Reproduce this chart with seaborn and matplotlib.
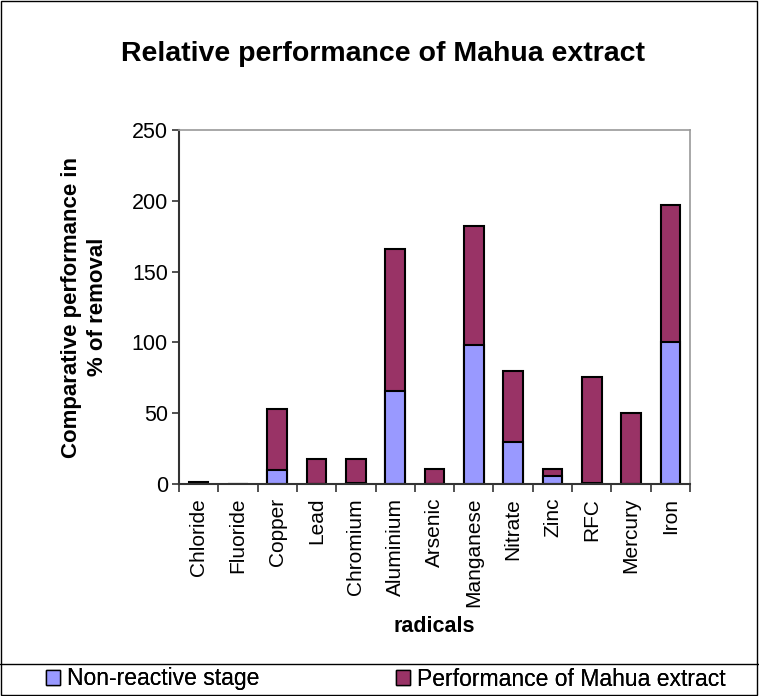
import matplotlib
matplotlib.use("Agg")
import matplotlib.pyplot as plt
from matplotlib.patches import Patch, Rectangle
from matplotlib.lines import Line2D
import seaborn as sns
import pandas as pd

categories = ["Chloride", "Fluoride", "Copper", "Lead", "Chromium", "Aluminium",
              "Arsenic", "Manganese", "Nitrate", "Zinc", "RFC", "Mercury", "Iron"]
non_reactive = [0, 0, 10, 0, 1, 66, 0, 98, 30, 6, 1, 0, 100]
mahua = [1.5, 0, 43, 18, 16.5, 100, 10.5, 84, 50, 4.5, 74.5, 50, 97]

totals = [a + b for a, b in zip(non_reactive, mahua)]
df = pd.DataFrame({"radical": categories, "non": non_reactive, "total": totals})

sns.set_theme(style="white")
plt.rcParams["font.family"] = ["Liberation Sans", "DejaVu Sans"]
plt.rcParams["text.color"] = "black"
plt.rcParams["axes.labelcolor"] = "black"
plt.rcParams["xtick.color"] = "black"
plt.rcParams["ytick.color"] = "black"

blue = "#9999FF"
maroon = "#993366"

fig = plt.figure(figsize=(7.59, 6.96), dpi=100)
ax = fig.add_axes([179/759, 1-484/696, (690-179)/759, (484-130)/696])

sns.barplot(data=df, x="radical", y="total", color=maroon, edgecolor="black",
            linewidth=1.5, width=0.5, saturation=1, ax=ax, order=categories)
sns.barplot(data=df, x="radical", y="non", color=blue, edgecolor="black",
            linewidth=1.5, width=0.5, saturation=1, ax=ax, order=categories)

ax.set_xlim(-0.5, len(categories) - 0.5)
ax.set_ylim(0, 250)
ax.set_yticks([0, 50, 100, 150, 200, 250])
ax.set_xticks([i - 0.5 for i in range(len(categories) + 1)], minor=False)
ax.set_xticklabels([])
ax.set_xticks(range(len(categories)), minor=True)
ax.set_xticklabels(categories, minor=True, rotation=90, fontsize=15)
ax.tick_params(axis="x", which="minor", length=0, pad=10)
ax.tick_params(axis="x", which="major", length=6, width=1.2, color="#333333", direction="out", bottom=True)
ax.tick_params(axis="y", length=5, width=1.2, color="#333333", direction="out", left=True, labelsize=15.5, pad=3)

for s in ["left", "bottom"]:
    ax.spines[s].set_color("#333333")
    ax.spines[s].set_linewidth(1.5)
for s in ["top", "right"]:
    ax.spines[s].set_visible(True)
    ax.spines[s].set_color("#999999")
    ax.spines[s].set_linewidth(1.2)

ax.set_xlabel("radicals", fontsize=15.5, fontweight="bold", labelpad=0)
ax.xaxis.set_label_coords(0.5, (484-616)/354)
ax.set_ylabel("Comparative performance in\n% of removal", fontsize=16, fontweight="bold",
              linespacing=1.3)
ax.yaxis.set_label_coords((108-179)/511, 0.5)

fig.text(383/759, 1-54/696, "Relative performance of Mahua extract", ha="center", va="center",
         fontsize=20.5, fontweight="bold")

# figure border and legend separator
fig.patches.append(Rectangle((0.001, 0.001), 0.997, 0.997, transform=fig.transFigure,
                             fill=False, edgecolor="black", linewidth=1))
fig.lines.append(Line2D([0, 1], [1-664/696, 1-664/696], transform=fig.transFigure,
                        color="black", linewidth=1))

legend_items = [("Non-reactive stage", blue, 46), ("Performance of Mahua extract", maroon, 396)]
for label, col, xpx in legend_items:
    leg = fig.legend(handles=[Patch(facecolor=col, edgecolor="black", label=label)],
                     loc="center left", bbox_to_anchor=(xpx/759, 1-679/696),
                     frameon=False, fontsize=16.5, handlelength=0.6, handleheight=0.6,
                     handletextpad=0.3, borderpad=0, borderaxespad=0)
    fig.add_artist(leg)

fig.savefig("out.png", dpi=100)
